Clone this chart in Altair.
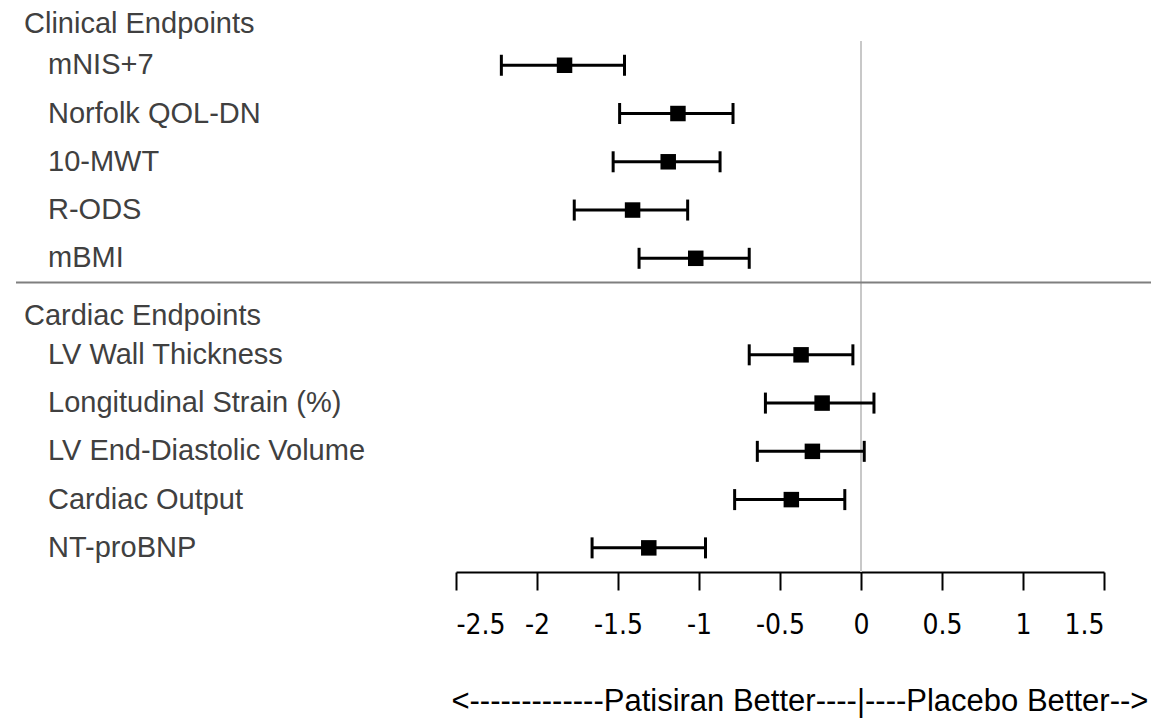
import altair as alt
import pandas as pd

# ---- data ----
labels = ["mNIS+7", "Norfolk QOL-DN", "10-MWT", "R-ODS", "mBMI",
          "LV Wall Thickness", "Longitudinal Strain (%)", "LV End-Diastolic Volume",
          "Cardiac Output", "NT-proBNP"]
groups = ["Clinical Endpoints"] * 5 + ["Cardiac Endpoints"] * 5
estimates = [-1.83, -1.13, -1.19, -1.41, -1.02, -0.37, -0.24, -0.30, -0.43, -1.31]
ci_low = [-2.22, -1.49, -1.53, -1.77, -1.37, -0.69, -0.59, -0.64, -0.78, -1.66]
ci_high = [-1.46, -0.79, -0.87, -1.07, -0.69, -0.05, 0.08, 0.02, -0.10, -0.96]
headers = ["Clinical Endpoints", "Cardiac Endpoints"]
tick_values = [-2.5, -2, -1.5, -1, -0.5, 0, 0.5, 1, 1.5]
note_left = "<-------------Patisiran Better----|"
note_right = "----Placebo Better-->"

row_order = [headers[0]] + labels[:5] + [headers[1]] + labels[5:]

df = pd.DataFrame({"label": labels, "group": groups, "est": estimates,
                   "lo": ci_low, "hi": ci_high})
hdf = pd.DataFrame({"label": headers})

FONT = "Liberation Sans, Arial, Helvetica, sans-serif"
TICKFONT = "Liberation Sans Narrow, Arial Narrow, DejaVu Sans Condensed, Liberation Sans, sans-serif"
TXT = "#404040"
W, H = 648, 555
HALF = H / 11.5 / 2

xsc = alt.Scale(domain=[-2.5, 1.5], nice=False, zero=False)
ysc = alt.Scale(type="point", domain=row_order, padding=0.25, align=0)
xaxis = alt.Axis(
    values=tick_values, title=None, grid=False,
    domainColor="black", domainWidth=2, tickColor="black", tickWidth=2, tickSize=18,
    labelFont=TICKFONT, labelFontSize=28, labelColor="black", labelPadding=21,
    labelExpr="datum.value < 0 ? '-' + format(-datum.value, '~g') : format(datum.value, '~g')",
)
Y = alt.Y("label:N", scale=ysc, axis=None)

zero_line = alt.Chart(df).mark_rule(color="#c8c8c8", strokeWidth=2).encode(
    x=alt.X(datum=0, scale=xsc, axis=xaxis),
    y=alt.value(HALF), y2=alt.value(H),
)

separator = alt.Chart(hdf).transform_filter(
    alt.datum.label == headers[1]
).mark_rule(color="#7f7f7f", strokeWidth=2, yOffset=-HALF).encode(
    y=Y, x=alt.value(-440), x2=alt.value(695),
)

bars = alt.Chart(df).mark_rule(color="black", strokeWidth=3).encode(
    x=alt.X("lo:Q", scale=xsc, axis=xaxis), x2="hi:Q", y=Y,
)
cap_lo = alt.Chart(df).mark_tick(color="black", thickness=3, size=21, opacity=1).encode(
    x=alt.X("lo:Q", scale=xsc, axis=xaxis), y=Y,
)
cap_hi = alt.Chart(df).mark_tick(color="black", thickness=3, size=21, opacity=1).encode(
    x=alt.X("hi:Q", scale=xsc, axis=xaxis), y=Y,
)
points = alt.Chart(df).mark_square(color="black", size=240, opacity=1).encode(
    x=alt.X("est:Q", scale=xsc, axis=xaxis), y=Y,
)

item_text = alt.Chart(df).mark_text(
    align="left", baseline="middle", font=FONT, fontSize=29, color=TXT
).encode(x=alt.value(-408), y=Y, text="label:N")

header_clin = alt.Chart(hdf).transform_filter(
    alt.datum.label == headers[0]
).mark_text(
    align="left", baseline="middle", font=FONT, fontSize=29, color=TXT, dy=7
).encode(x=alt.value(-432), y=Y, text="label:N")

header_card = alt.Chart(hdf).transform_filter(
    alt.datum.label == headers[1]
).mark_text(
    align="left", baseline="middle", font=FONT, fontSize=29, color=TXT, dy=9
).encode(x=alt.value(-432), y=Y, text="label:N")

note_l = alt.Chart(pd.DataFrame({"t": [note_left]})).mark_text(
    align="right", baseline="middle", font=FONT, fontSize=31, color="black", dx=4
).encode(x=alt.X(datum=0, scale=xsc, axis=xaxis), y=alt.value(685), text="t:N")
note_r = alt.Chart(pd.DataFrame({"t": [note_right]})).mark_text(
    align="left", baseline="middle", font=FONT, fontSize=31, color="black", dx=4
).encode(x=alt.X(datum=0, scale=xsc, axis=xaxis), y=alt.value(685), text="t:N")

chart = alt.layer(
    zero_line, separator, bars, cap_lo, cap_hi, points,
    item_text, header_clin, header_card, note_l, note_r,
).properties(
    width=W, height=H,
    autosize=alt.AutoSizeParams(type="none"),
    padding={"left": 448, "top": 9, "right": 53, "bottom": 146},
).configure_view(stroke=None)

chart.save("out.html", embed_options={"renderer": "svg", "actions": False})
